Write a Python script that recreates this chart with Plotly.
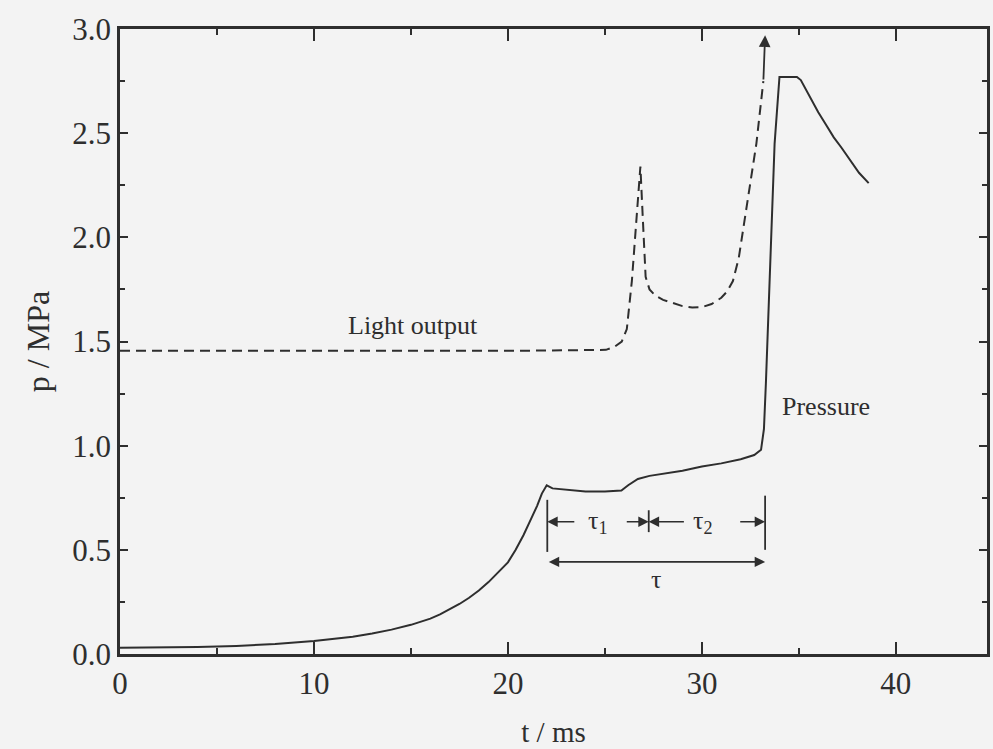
import plotly.graph_objects as go

# Pressure trace (MPa) vs time (ms)
t_pressure = [0, 2, 4, 6, 8, 10, 11, 12, 13, 14, 15, 16, 16.5, 17, 17.5, 18,
              18.5, 19, 19.5, 20, 20.4, 20.8, 21.2, 21.5, 21.75, 22.0, 22.3,
              23, 24, 25, 25.85, 26.2, 26.7, 27.3, 28, 29, 30, 31, 32, 32.7,
              33.05, 33.2, 33.3, 33.45, 33.6, 33.75, 34.0, 34.9, 35.1, 35.3,
              35.6, 36.0, 36.4, 36.8, 37.2, 37.6, 38.1, 38.6]
p_pressure = [0.03, 0.031, 0.034, 0.039, 0.048, 0.062, 0.072, 0.083, 0.098,
              0.117, 0.14, 0.17, 0.19, 0.215, 0.24, 0.27, 0.305, 0.345, 0.39,
              0.44, 0.5, 0.57, 0.65, 0.71, 0.77, 0.81, 0.795, 0.79, 0.78, 0.78,
              0.785, 0.81, 0.84, 0.855, 0.865, 0.88, 0.9, 0.915, 0.935, 0.955,
              0.98, 1.08, 1.3, 1.7, 2.1, 2.45, 2.77, 2.77, 2.755, 2.72, 2.67,
              2.6, 2.54, 2.48, 2.43, 2.375, 2.31, 2.26]

# Light output signal (arbitrary offset on the pressure scale)
t_light = [0, 10, 20, 25.05, 25.5, 25.87, 26.13, 26.39, 26.6, 26.83, 26.95,
           27.1, 27.3, 27.6, 28.0, 28.5, 29.0, 29.5, 30.0, 30.5, 31.0, 31.3,
           31.6, 31.9, 32.24, 32.55, 32.81, 33.17]
p_light = [1.455, 1.455, 1.455, 1.46, 1.475, 1.50, 1.56, 1.79, 2.05, 2.34, 2.1,
           1.81, 1.75, 1.72, 1.70, 1.685, 1.67, 1.663, 1.665, 1.68, 1.71, 1.74,
           1.79, 1.90, 2.10, 2.29, 2.45, 2.75]
# Light output goes off scale: arrow tip
light_arrow_tip = (33.26, 2.97)

# Delay boundaries: start of plateau, light flash, pressure jump
tau_marks = [22.03, 27.26, 33.26]

x_ticks = [0, 10, 20, 30, 40]
y_ticks = [0.0, 0.5, 1.0, 1.5, 2.0, 2.5, 3.0]

ink = "#2e2e2e"
bg = "#f3f3f3"
serif = "Liberation Serif, Times New Roman, serif"

fig = go.Figure()

fig.add_trace(go.Scatter(x=t_pressure, y=p_pressure, mode="lines",
                         line=dict(color=ink, width=2), showlegend=False))
fig.add_trace(go.Scatter(x=t_light, y=p_light, mode="lines",
                         line=dict(color=ink, width=2, dash="10px,6px"),
                         showlegend=False))

ann = []


def arrow(x_tail, y_tail, x_tip, y_tip, side="end", width=1.6):
    """Filled arrowhead at the tip, solid shaft back to the tail."""
    return dict(x=x_tip, y=y_tip, ax=x_tail, ay=y_tail,
                xref="x", yref="y", axref="x", ayref="y", text="",
                showarrow=True, arrowhead=2, arrowside=side, arrowsize=1.3,
                arrowwidth=width, arrowcolor=ink)


# off-scale arrow on the light output curve
ann.append(arrow(t_light[-1], p_light[-1], light_arrow_tip[0], light_arrow_tip[1], width=1.8))

t0, t1, t2 = tau_marks
y_row = 0.635
y_total = 0.442
# short arrows pointing at the boundaries
for tail, tip in [(23.5, t0), (26.05, t1), (29.15, t1), (31.9, t2)]:
    ann.append(arrow(tail, y_row, tip, y_row))
# overall delay arrow (double headed)
ann.append(arrow(t0, y_total, t2, y_total, side="end+start"))

# boundary bars
shapes = []
for tm, lo, hi in [(t0, 0.49, 0.74), (t1, 0.585, 0.69), (t2, 0.50, 0.76)]:
    shapes.append(dict(type="line", x0=tm, x1=tm, y0=lo, y1=hi, xref="x", yref="y",
                       line=dict(color=ink, width=1.8)))

txt_font = dict(family=serif, size=26, color=ink)
ann.append(dict(x=(t0 + t1) / 2, y=y_row, text="τ<sub>1</sub>", showarrow=False,
                font=txt_font, xref="x", yref="y"))
ann.append(dict(x=(t1 + t2) / 2 - 0.2, y=y_row, text="τ<sub>2</sub>", showarrow=False,
                font=txt_font, xref="x", yref="y"))
ann.append(dict(x=(t0 + t2) / 2, y=0.36, text="τ", showarrow=False,
                font=txt_font, xref="x", yref="y"))
ann.append(dict(x=15.1, y=1.575, text="Light output", showarrow=False,
                font=txt_font, xref="x", yref="y"))
ann.append(dict(x=36.4, y=1.19, text="Pressure", showarrow=False,
                font=txt_font, xref="x", yref="y"))

tick_font = dict(family=serif, size=31, color=ink)
xtitle_font = dict(family=serif, size=29, color=ink)
ytitle_font = dict(family=serif, size=32, color=ink)

fig.update_layout(
    width=993, height=749,
    margin=dict(l=120, r=3, t=29, b=95),
    paper_bgcolor=bg, plot_bgcolor=bg,
    annotations=ann, shapes=shapes,
    xaxis=dict(range=[0, 44.7], tickvals=x_ticks, ticktext=[str(v) for v in x_ticks],
               ticks="inside", ticklen=12, tickwidth=2, tickcolor=ink,
               minor=dict(dtick=5, tick0=0, ticks="inside", ticklen=6, tickwidth=2, tickcolor=ink),
               showline=True, linecolor=ink, linewidth=2.5, mirror="ticks",
               showgrid=False, zeroline=False,
               tickfont=tick_font,
               title=dict(text="t / ms", font=xtitle_font, standoff=22)),
    yaxis=dict(range=[0, 3.0], tickvals=y_ticks, ticktext=[f"{v:.1f}" for v in y_ticks],
               ticks="inside", ticklen=8, tickwidth=2, tickcolor=ink,
               minor=dict(dtick=0.25, tick0=0, ticks="inside", ticklen=5, tickwidth=2, tickcolor=ink),
               showline=True, linecolor=ink, linewidth=2.5, mirror="ticks",
               showgrid=False, zeroline=False,
               tickfont=tick_font,
               title=dict(text="p / MPa", font=ytitle_font, standoff=14)),
)

fig.write_html("out.html")
